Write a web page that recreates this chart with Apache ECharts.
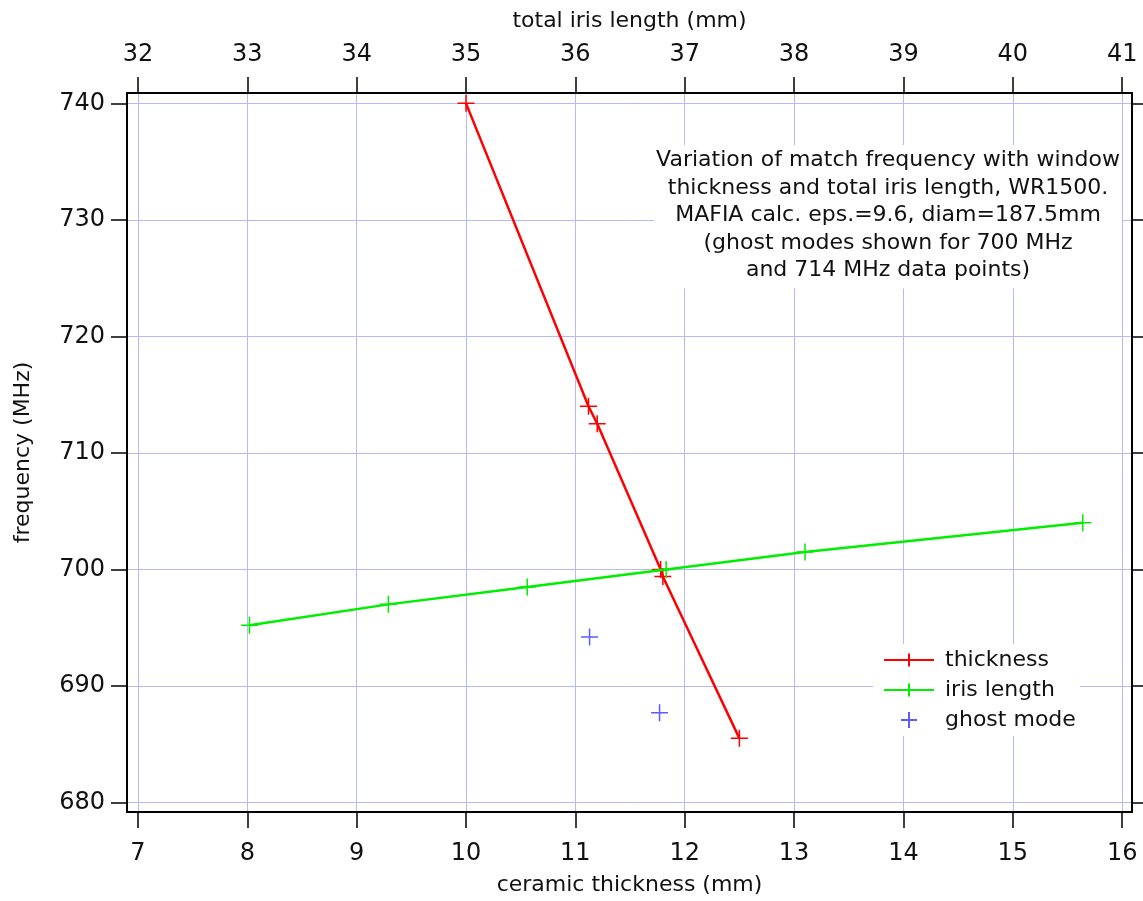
<!DOCTYPE html>
<html><head><meta charset="utf-8">
<script src="https://cdn.jsdelivr.net/npm/echarts@6/dist/echarts.min.js"></script>
<style>html,body{margin:0;padding:0;background:#fff}#c{width:1143px;height:901px}</style>
</head><body><div id="c"></div>
<script>
// ceramic thickness (mm) vs match frequency (MHz)
const thicknessX = [10.0, 11.12, 11.20, 11.78, 11.80, 12.50];
const thicknessY = [740.0, 714.0, 712.5, 700.0, 699.4, 685.5];
// total iris length (mm) vs match frequency (MHz)
const irisX = [33.02, 34.29, 35.56, 36.83, 38.10, 40.64];
const irisY = [695.2, 697.0, 698.5, 700.0, 701.5, 704.0];
// ghost modes (plotted against ceramic thickness)
const ghostX = [11.13, 11.77];
const ghostY = [694.2, 687.7];

const bottomTicks = [7, 8, 9, 10, 11, 12, 13, 14, 15, 16];
const topTicks = [32, 33, 34, 35, 36, 37, 38, 39, 40, 41];
const freqTicks = [680, 690, 700, 710, 720, 730, 740];

const annotation = [
  'Variation of match frequency with window',
  'thickness and total iris length, WR1500.',
  'MAFIA calc. eps.=9.6, diam=187.5mm',
  '(ghost modes shown for 700 MHz',
  'and 714 MHz data points)'
];

const FONT = 'DejaVu Sans';
const TXT = '#111';
const GRIDC = '#b8b8ff';
const CROSS = 'path://M0,10L20,10M10,0L10,20';

const zip = (a, b) => a.map((v, i) => [v, b[i]]);

const axisLine = { show: true, onZero: false, lineStyle: { color: '#000', width: 2 } };
const tick = (vals) => ({ show: true, inside: false, length: 16, customValues: vals, lineStyle: { color: '#000', width: 1.5 } });

const chart = echarts.init(document.getElementById('c'), null, { renderer: 'canvas' });
chart.setOption({
  animation: false,
  backgroundColor: '#fff',
  title: {
    text: annotation.join('\n'),
    left: 886, top: 145, textAlign: 'center',
    backgroundColor: '#fff', padding: [2, 2, 4, 2],
    textStyle: { fontFamily: FONT, fontSize: 22, fontWeight: 'normal', color: TXT, lineHeight: 27.5 }
  },
  legend: {
    orient: 'vertical', left: 873, top: 644,
    backgroundColor: '#fff', padding: [5, 4, 5, 10],
    itemWidth: 50, itemHeight: 16, itemGap: 8,
    textStyle: { fontFamily: FONT, fontSize: 22, color: TXT, padding: [0, 0, 0, 6] },
    data: ['thickness', 'iris length', 'ghost mode']
  },
  grid: { left: 127, right: 11, top: 93, bottom: 88, containLabel: false },
  xAxis: [
    {
      type: 'value', position: 'bottom', min: 6.9, max: 16.09,
      axisLine, axisTick: tick(bottomTicks),
      axisLabel: { customValues: bottomTicks, fontFamily: FONT, fontSize: 24, color: TXT, margin: 30 },
      splitLine: { show: true, lineStyle: { color: GRIDC, width: 1 } },
      name: 'ceramic thickness (mm)', nameLocation: 'middle', nameGap: 62,
      nameTextStyle: { fontFamily: FONT, fontSize: 22, color: TXT }
    },
    {
      type: 'value', position: 'top', min: 31.9, max: 41.09,
      axisLine, axisTick: tick(topTicks),
      axisLabel: { customValues: topTicks, fontFamily: FONT, fontSize: 24, color: TXT, margin: 26 },
      splitLine: { show: false },
      name: 'total iris length (mm)', nameLocation: 'middle', nameGap: 61,
      nameTextStyle: { fontFamily: FONT, fontSize: 22, color: TXT }
    }
  ],
  yAxis: [
    {
      type: 'value', position: 'left', min: 679.18, max: 740.89,
      axisLine, axisTick: tick(freqTicks),
      axisLabel: { customValues: freqTicks, fontFamily: FONT, fontSize: 24, color: TXT, margin: 22 },
      splitLine: { show: true, lineStyle: { color: GRIDC, width: 1 } },
      name: 'frequency (MHz)', nameLocation: 'middle', nameGap: 93, nameRotate: 90,
      nameTextStyle: { fontFamily: FONT, fontSize: 22, color: TXT }
    },
    {
      type: 'value', position: 'right', min: 679.18, max: 740.89,
      axisLine, axisTick: tick(freqTicks),
      axisLabel: { show: false },
      splitLine: { show: false }
    }
  ],
  series: [
    {
      name: 'thickness', type: 'line', xAxisIndex: 0, yAxisIndex: 0,
      data: zip(thicknessX, thicknessY),
      symbol: CROSS, symbolSize: 17, showSymbol: true,
      lineStyle: { color: '#ff0000', width: 2.5 },
      itemStyle: { color: '#ff0000', borderColor: '#ff0000', borderWidth: 1.5 },
      emphasis: { disabled: true }, z: 3
    },
    {
      name: 'iris length', type: 'line', xAxisIndex: 1, yAxisIndex: 0,
      data: zip(irisX, irisY),
      symbol: CROSS, symbolSize: 17, showSymbol: true,
      lineStyle: { color: '#00ee00', width: 2.5 },
      itemStyle: { color: '#00ee00', borderColor: '#00ee00', borderWidth: 1.5 },
      emphasis: { disabled: true }, z: 4
    },
    {
      name: 'ghost mode', type: 'scatter', xAxisIndex: 0, yAxisIndex: 0,
      data: zip(ghostX, ghostY),
      symbol: CROSS, symbolSize: 17,
      itemStyle: { color: '#3333ff', borderColor: '#3333ff', borderWidth: 1.5 },
      emphasis: { disabled: true }
    }
  ]
});
</script>
</body></html>
